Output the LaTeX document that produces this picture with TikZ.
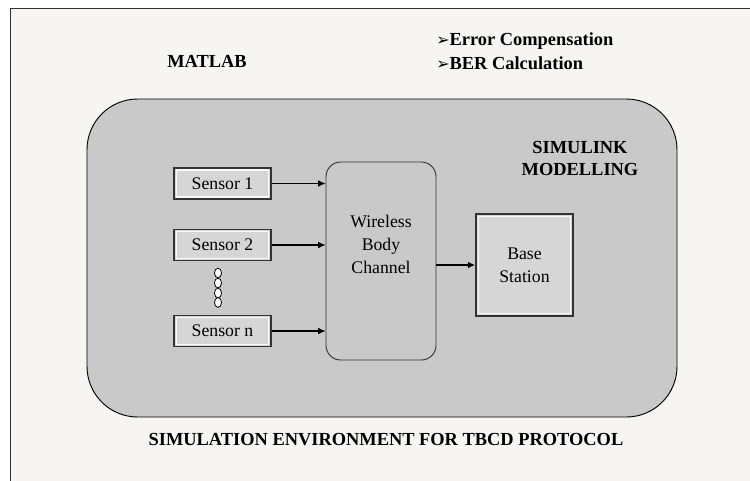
\documentclass[tikz,border=0pt]{standalone}
\usepackage{fontspec}
\setmainfont{Liberation Serif}
\newfontfamily\symfont{DejaVu Sans}
\usetikzlibrary{arrows.meta,shapes.geometric}
\definecolor{pagebg}{HTML}{F6F5F2}
\definecolor{panel}{HTML}{C9C9C9}
\definecolor{boxfill}{HTML}{D6D6D6}
\definecolor{boxline}{HTML}{333333}
\tikzset{
  lbl/.style={font=\fontsize{13.8pt}{16pt}\selectfont\bfseries, inner sep=0pt},
  boxtext/.style={font=\fontsize{13.3pt}{17pt}\selectfont},
  sensorbox/.style={draw=boxline, line width=1.2pt, fill=boxfill, minimum width=72.75pt, minimum height=23.5pt, boxtext, inner sep=0pt,
    path picture={\draw[white!85!boxfill, line width=0.9pt]
      ([xshift=1.6pt,yshift=-1.6pt]path picture bounding box.north west) rectangle
      ([xshift=-1.6pt,yshift=1.6pt]path picture bounding box.south east);}},
  conn/.style={draw=black, line width=0.8pt, -{Latex[length=5.5pt,width=5pt]}},
  dotc/.style={draw=black, line width=0.6pt, fill=white, ellipse, minimum width=5.3pt, minimum height=7.3pt, inner sep=0pt},
  bullet/.style={}
}
\newcommand{\arrbul}{{\symfont\fontsize{12pt}{14pt}\selectfont ➢}}
\begin{document}
\begin{tikzpicture}[x=0.75pt,y=-0.75pt]
\useasboundingbox (0,0) rectangle (750,480);
\clip (0,0) rectangle (750,480);
\fill[white] (0,0) rectangle (750,480);
\fill[pagebg] (10.5,8.5) rectangle (760,490);
\draw[line width=1.3pt, draw=black!80] (10.5,490) -- (10.5,8.5) -- (760,8.5);
% labels
\node[lbl] (matlab) at (207,61) {MATLAB};
\node[lbl, anchor=west] (err) at (436,41) {\arrbul Error Compensation};
\node[lbl, anchor=west] (ber) at (436,63) {\arrbul BER Calculation};
% panel
\draw[fill=panel, draw=black, line width=0.7pt, rounded corners=38pt] (87,99) rectangle (677,417);
\node[lbl, align=center] (simu) at (580,158.5) {SIMULINK\\[1pt]MODELLING};
% sensors
\node[sensorbox] (s1) at (222.5,183.5) {Sensor 1};
\node[sensorbox] (s2) at (222.5,245) {Sensor 2};
\node[sensorbox] (sn) at (222.5,331) {Sensor n};
% dots
\node[dotc] (d1) at (218,273) {};
\node[dotc] (d2) at (218,283) {};
\node[dotc] (d3) at (218,293) {};
\node[dotc] (d4) at (218,302.5) {};
% channel
\node[draw=boxline, line width=0.7pt, fill=panel, rounded corners=11pt, minimum width=82.5pt, minimum height=148.5pt, inner sep=0pt] (ch) at (381,261) {};
\node[boxtext, align=center, inner sep=0pt] (chtext) at (381,244.5) {Wireless\\Body\\Channel};
% base station
\node[sensorbox, minimum width=72.75pt, minimum height=76.5pt, align=center] (bs) at (524.5,265) {Base\\Station};
% connectors
\draw[conn] (s1.east) -- (s1.east -| ch.west);
\draw[conn] (s2.east) -- (s2.east -| ch.west);
\draw[conn] (sn.east) -- (sn.east -| ch.west);
\draw[conn] (ch.east |- bs.west) -- (bs.west);
% bottom
\node[lbl] (title) at (386,440) {SIMULATION ENVIRONMENT FOR TBCD PROTOCOL};
\end{tikzpicture}
\end{document}
